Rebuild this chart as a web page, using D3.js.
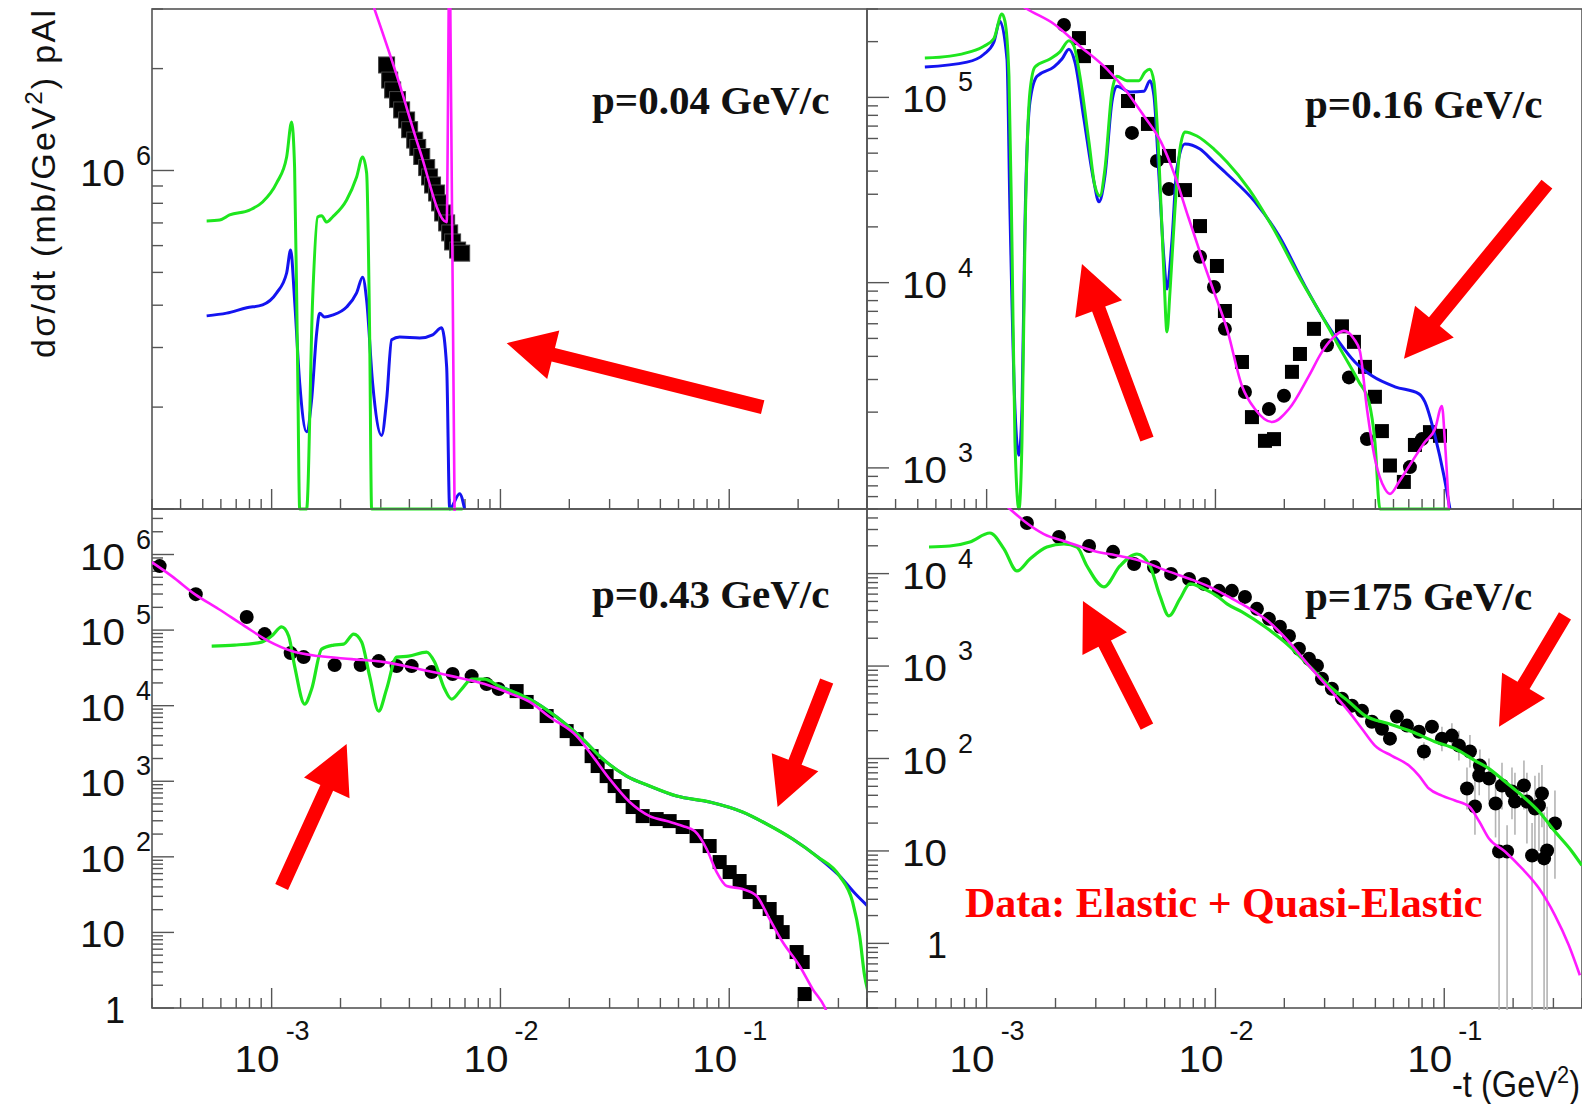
<!DOCTYPE html>
<html>
<head>
<meta charset="utf-8">
<title>dsigma/dt pAl</title>
<script src="https://cdn.jsdelivr.net/npm/d3@7"></script>
<style>
  body { margin: 0; background: #fff; }
  svg { display: block; }
  .lbl { font-family: "Liberation Sans", Arial, sans-serif; fill: #111; }
  .ptitle { font-family: "Liberation Serif", "Times New Roman", serif; font-weight: bold; fill: #111; }
</style>
</head>
<body>
<svg id="chart"></svg>
<script>
// all series are pairs [-t (GeV^2), dsigma/dt (mb/GeV^2)]

// p = 0.04 GeV/c
var greenA = [[5.20e-4,7.09e5],[5.93e-4,7.14e5],[6.55e-4,7.39e5],[8.01e-4,7.64e5],[9.13e-4,8.07e5],[1.052e-3,9.19e5],[1.163e-3,1.096e6],[1.223e-3,1.39e6],[1.26e-3,1.02e6],[1.299e-3,2.63e5],[1.326e-3,1e5],[1.422e-3,1e5],[1.51e-3,4.14e5],[1.589e-3,7.29e5],[1.654e-3,7.35e5],[1.74e-3,7.04e5],[1.847e-3,7.29e5],[2.127e-3,8.18e5],[2.352e-3,9.57e5],[2.498e-3,1.096e6],[2.601e-3,9.83e5],[2.681e-3,3.31e5],[2.735e-3,1e5],[6.83e-3,1e5]];
var blueA = [[5.20e-4,3.72e5],[6.36e-4,3.79e5],[7.78e-4,3.93e5],[9.13e-4,4.01e5],[1.052e-3,4.35e5],[1.163e-3,4.98e5],[1.211e-3,5.82e5],[1.26e-3,4.14e5],[1.326e-3,2.36e5],[1.422e-3,1.69e5],[1.495e-3,2.10e5],[1.573e-3,3.31e5],[1.621e-3,3.79e5],[1.704e-3,3.69e5],[1.847e-3,3.74e5],[2.127e-3,3.95e5],[2.352e-3,4.35e5],[2.498e-3,4.84e5],[2.601e-3,4.14e5],[2.762e-3,2.36e5],[3.025e-3,1.65e5],[3.181e-3,2.10e5],[3.346e-3,3.16e5],[3.626e-3,3.22e5],[4.436e-3,3.20e5],[5.054e-3,3.27e5],[5.534e-3,3.43e5],[5.82e-3,2.63e5],[6.0e-3,1e5],[6.63e-3,1.11e5],[6.97e-3,1e5]];
var magentaA = [[2.68e-3,3.3e6],[3.54e-3,1.89e6],[4.436e-3,1.15e6],[5.82e-3,7.04e5],[6.0e-3,5e6],[6.31e-3,9e4]];
var pointsA = [[3.18e-3,2.05e6],[3.28e-3,1.85e6],[3.38e-3,1.73e6],[3.55e-3,1.62e6],[3.70e-3,1.51e6],[3.89e-3,1.41e6],[4.01e-3,1.32e6],[4.22e-3,1.23e6],[4.35e-3,1.17e6],[4.53e-3,1.10e6],[4.76e-3,1.02e6],[4.90e-3,9.57e5],[5.05e-3,9.06e5],[5.26e-3,8.58e5],[5.42e-3,8.02e5],[5.59e-3,7.49e5],[5.82e-3,7.00e5],[6.00e-3,6.54e5],[6.18e-3,6.15e5],[6.50e-3,5.82e5],[6.77e-3,5.70e5]];

// p = 0.16 GeV/c
var greenB = [[5.37e-4,1.63e5],[6.91e-4,1.67e5],[8.45e-4,1.76e5],[9.73e-4,1.89e5],[1.076e-3,2.08e5],[1.166e-3,2.82e5],[1.202e-3,2.58e5],[1.252e-3,1.30e5],[1.29e-3,1.66e4],[1.33e-3,1.38e3],[1.384e-3,600],[1.427e-3,1.38e3],[1.47e-3,1.66e4],[1.546e-3,1.07e5],[1.626e-3,1.46e5],[1.891e-3,1.61e5],[2.091e-3,1.76e5],[2.289e-3,2.02e5],[2.407e-3,1.89e5],[2.557e-3,1.30e5],[2.8e-3,5.75e4],[2.974e-3,3.32e4],[3.127e-3,2.94e4],[3.289e-3,4.11e4],[3.528e-3,1.07e5],[3.71e-3,1.30e5],[4.104e-3,1.23e5],[4.632e-3,1.23e5],[4.919e-3,1.37e5],[5.173e-3,1.42e5],[5.386e-3,1.21e5],[5.664e-3,4.65e4],[5.957e-3,1.09e4],[6.14e-3,5.42e3],[6.328e-3,8.91e3],[6.654e-3,2.50e4],[6.997e-3,5.26e4],[7.358e-3,6.51e4],[8.30e-3,6.19e4],[9.85e-3,5.26e4],[1.123e-2,4.48e4],[1.401e-2,3.20e4],[1.766e-2,2.02e4],[2.388e-2,1.01e4],[2.921e-2,6.61e3],[3.572e-2,4.23e3],[4.239e-2,2.91e3],[4.687e-2,2.27e3],[4.978e-2,1.38e3],[5.236e-2,600],[0.1059,600]];
var blueB = [[5.37e-4,1.46e5],[8.20e-4,1.55e5],[9.73e-4,1.71e5],[1.076e-3,1.99e5],[1.143e-3,2.58e5],[1.227e-3,1.61e5],[1.264e-3,2.50e4],[1.33e-3,2.08e3],[1.384e-3,1.17e3],[1.427e-3,2.08e3],[1.47e-3,2.02e4],[1.546e-3,9.45e4],[1.66e-3,1.30e5],[1.969e-3,1.46e5],[2.133e-3,1.61e5],[2.289e-3,1.82e5],[2.432e-3,1.55e5],[2.662e-3,7.64e4],[2.944e-3,3.50e4],[3.095e-3,2.73e4],[3.289e-3,3.77e4],[3.528e-3,9.45e4],[3.71e-3,1.15e5],[4.23e-3,1.07e5],[4.87e-3,1.08e5],[5.173e-3,1.23e5],[5.386e-3,1.02e5],[5.664e-3,3.77e4],[5.957e-3,1.34e4],[6.14e-3,9.25e3],[6.45e-3,1.66e4],[6.78e-3,4.11e4],[7.358e-3,5.60e4],[8.56e-3,5.26e4],[9.85e-3,4.48e4],[1.123e-2,3.86e4],[1.488e-2,2.73e4],[1.895e-2,1.79e4],[2.462e-2,9.60e3],[2.921e-2,6.61e3],[3.466e-2,4.79e3],[4.07e-2,3.73e3],[4.831e-2,3.14e3],[6.088e-2,2.74e3],[7.75e-2,2.51e3],[8.23e-2,2.27e3],[9.11e-2,1.49e3],[9.97e-2,9.06e2],[0.1059,600]];
var magentaB = [[1.33e-3,3.3e5],[1.5e-3,3.0e5],[1.969e-3,2.49e5],[2.557e-3,1.89e5],[3.356e-3,1.42e5],[4.104e-3,1.07e5],[4.87e-3,7.93e4],[5.779e-3,5.75e4],[6.654e-3,3.77e4],[7.583e-3,2.29e4],[8.56e-3,1.46e4],[9.85e-3,8.91e3],[1.123e-2,5.63e3],[1.306e-2,2.77e3],[1.488e-2,2.08e3],[1.766e-2,1.77e3],[2.095e-2,2.08e3],[2.562e-2,3.14e3],[2.921e-2,4.23e3],[3.228e-2,4.97e3],[3.645e-2,5.49e3],[4.03e-2,4.97e3],[4.28e-2,4.26e3],[4.595e-2,2.08e3],[4.978e-2,1.12e3],[5.505e-2,7.70e2],[5.79e-2,7.24e2],[6.34e-2,8.40e2],[7.225e-2,1.08e3],[8.23e-2,1.38e3],[9.11e-2,1.62e3],[9.77e-2,2.16e3],[0.1007,1.38e3],[0.1048,600]];
var circlesB = [[2.177e-3,2.46e5],[4.317e-3,6.43e4],[5.55e-3,4.54e4],[6.262e-3,3.20e4],[8.56e-3,1.38e4],[9.85e-3,9.48e3],[1.1e-2,5.63e3],[1.346e-2,2.57e3],[1.713e-2,2.08e3],[1.993e-2,2.45e3],[3.072e-2,4.59e3],[3.832e-2,3.08e3],[4.595e-2,1.43e3],[7.08e-2,1.01e3],[7.99e-2,1.43e3]];
var squaresB = [[2.532e-3,2.09e5],[2.662e-3,1.67e5],[3.356e-3,1.37e5],[4.148e-3,9.56e4],[5.07e-3,7.19e4],[6.262e-3,4.83e4],[7.358e-3,3.16e4],[8.56e-3,2.02e4],[1.015e-2,1.23e4],[1.1e-2,7.03e3],[1.306e-2,3.73e3],[1.444e-2,1.88e3],[1.646e-2,1.40e3],[1.803e-2,1.43e3],[2.16e-2,3.30e3],[2.341e-2,4.12e3],[2.695e-2,5.63e3],[3.572e-2,5.81e3],[4.03e-2,4.79e3],[4.503e-2,3.51e3],[4.978e-2,2.42e3],[5.34e-2,1.58e3],[5.79e-2,1.03e3],[6.66e-2,8.40e2],[7.445e-2,1.33e3],[8.66e-2,1.56e3],[9.58e-2,1.49e3]];

// p = 0.43 GeV/c
var greenC = [[5.47e-4,6.14e4],[6.89e-4,6.33e4],[9.04e-4,6.94e4],[1.0e-3,8.33e4],[1.106e-3,1.10e5],[1.187e-3,8.33e4],[1.26e-3,3.34e4],[1.394e-3,1.05e4],[1.496e-3,1.66e4],[1.654e-3,5.61e4],[1.866e-3,6.33e4],[2.064e-3,6.53e4],[2.283e-3,8.85e4],[2.474e-3,6.94e4],[2.681e-3,2.46e4],[2.936e-3,8.48e3],[3.181e-3,1.66e4],[3.518e-3,4.39e4],[3.97e-3,4.53e4],[4.758e-3,5.12e4],[5.158e-3,3.77e4],[5.703e-3,1.66e4],[6.119e-3,1.22e4],[6.767e-3,1.66e4],[7.483e-3,2.25e4],[8.53e-3,2.25e4],[9.82e-3,1.82e4],[1.119e-2,1.56e4],[1.342e-2,1.22e4],[1.761e-2,7.07e3],[2.288e-2,3.61e3],[2.798e-2,1.97e3],[3.561e-2,1.17e3],[4.488e-2,8.64e2],[5.89e-2,6.37e2],[8.21e-2,5.31e2],[0.1144,3.91e2],[0.1457,2.72e2],[0.1893,1.72e2],[0.241,1.02e2],[0.3038,55.7],[0.3462,25.2],[0.3715,8.96],[0.3907,2.65],[0.4027,1.73]];
var blueC = [[9.82e-3,1.82e4],[1.119e-2,1.56e4],[1.342e-2,1.22e4],[1.761e-2,7.07e3],[2.288e-2,3.61e3],[2.798e-2,1.97e3],[3.561e-2,1.17e3],[4.488e-2,8.64e2],[5.89e-2,6.37e2],[8.21e-2,5.31e2],[0.1144,3.91e2],[0.1457,2.72e2],[0.1893,1.72e2],[0.241,1.02e2],[0.3038,55.7],[0.3532,33.2],[0.4027,22.3]];
var magentaC = [[2.99e-4,7.93e5],[3.66e-4,5.18e5],[4.61e-4,2.99e5],[5.86e-4,1.90e5],[7.62e-4,1.13e5],[9.70e-4,7.15e4],[1.223e-3,5.28e4],[1.605e-3,4.53e4],[2.237e-3,4.13e4],[3.119e-3,3.77e4],[4.39e-3,3.05e4],[6.119e-3,2.46e4],[8.53e-3,1.93e4],[1.119e-2,1.42e4],[1.342e-2,1.12e4],[1.641e-2,7.07e3],[2.153e-2,3.96e3],[2.529e-2,2.15e3],[3.0e-2,1.07e3],[3.671e-2,5.31e2],[4.488e-2,3.46e2],[5.325e-2,2.97e2],[6.256e-2,2.56e2],[7.06e-2,2.19e2],[7.965e-2,1.27e2],[8.81e-2,62.9],[9.74e-2,41.1],[0.1144,37.5],[0.1318,30.3],[0.1502,15.0],[0.1712,7.46],[0.2031,3.59],[0.2315,1.78],[0.2612,1.03],[0.275,0.7]];
var circlesC = [[3.24e-4,7.02e5],[4.66e-4,2.99e5],[7.78e-4,1.49e5],[9.32e-4,8.85e4],[1.211e-3,4.96e4],[1.38e-3,4.39e4],[1.885e-3,3.44e4],[2.449e-3,3.44e4],[2.936e-3,3.89e4],[3.518e-3,3.34e4],[4.092e-3,3.34e4],[5.004e-3,2.78e4],[6.18e-3,2.62e4],[7.483e-3,2.46e4],[8.70e-3,1.93e4],[9.82e-3,1.66e4]];
var squaresC = [[1.177e-2,1.56e4],[1.302e-2,1.12e4],[1.592e-2,7.29e3],[1.947e-2,4.61e3],[2.153e-2,3.61e3],[2.503e-2,2.15e3],[2.66e-2,1.59e3],[2.912e-2,1.17e3],[3.156e-2,8.64e2],[3.42e-2,6.37e2],[3.782e-2,4.56e2],[4.183e-2,3.46e2],[4.816e-2,3.16e2],[5.49e-2,2.97e2],[6.256e-2,2.48e2],[7.20e-2,1.88e2],[8.21e-2,1.39e2],[9.08e-2,85.3],[0.1004,62.9],[0.111,47.9],[0.1228,34.2],[0.1358,25.2],[0.1502,20.4],[0.1612,13.7],[0.1712,10.1],[0.197,5.50],[0.2094,4.06],[0.2136,1.53]];

// p = 175 GeV/c
var greenD = [[5.60e-4,1.94e4],[6.91e-4,1.99e4],[8.45e-4,2.20e4],[1.034e-3,2.75e4],[1.19e-3,1.85e4],[1.357e-3,1.07e4],[1.546e-3,1.44e4],[1.834e-3,1.94e4],[2.177e-3,2.09e4],[2.481e-3,1.94e4],[2.744e-3,1.21e4],[3.256e-3,7.18e3],[3.825e-3,1.21e4],[4.539e-3,1.63e4],[5.173e-3,1.21e4],[5.72e-3,5.74e3],[6.264e-3,3.49e3],[6.996e-3,5.33e3],[7.737e-3,7.74e3],[8.906e-3,6.84e3],[1.015e-2,5.74e3],[1.123e-2,4.71e3],[1.306e-2,3.86e3],[1.646e-2,2.66e3],[2.096e-2,1.66e3],[2.563e-2,1.01e3],[3.133e-2,6.13e2],[3.832e-2,4.12e2],[4.503e-2,2.91e2],[5.73e-2,2.38e2],[7.225e-2,1.95e2],[9.11e-2,1.52e2],[0.1114,1.28e2],[0.1362,94.9],[0.1568,77.8],[0.1842,56.3],[0.2186,39.7],[0.2594,26.7],[0.3047,16.2],[0.3614,9.88],[0.3996,6.97]];
var magentaD = [[1.143e-3,6.25e4],[1.264e-3,5.0e4],[1.456e-3,3.71e4],[1.779e-3,2.68e4],[2.244e-3,2.20e4],[2.944e-3,1.76e4],[3.825e-3,1.55e4],[4.87e-3,1.34e4],[6.138e-3,1.07e4],[7.737e-3,8.76e3],[9.85e-3,6.84e3],[1.123e-2,5.74e3],[1.346e-2,4.48e3],[1.713e-2,3.01e3],[2.096e-2,1.83e3],[2.563e-2,1.01e3],[3.228e-2,5.28e2],[3.832e-2,3.21e2],[4.368e-2,2.10e2],[4.978e-2,1.38e2],[5.906e-2,1.07e2],[7.008e-2,83.8],[7.75e-2,65.4],[8.57e-2,47.3],[9.77e-2,39.7],[0.1114,35.1],[0.1286,30.2],[0.1422,20.8],[0.1568,13.6],[0.1842,9.88],[0.2186,6.47],[0.2594,3.94],[0.3047,2.01],[0.3503,0.954],[0.3915,0.452]];
var circlesD = [[1.5e-3,3.53e4],[2.07e-3,2.49e4],[2.803e-3,1.99e4],[3.569e-3,1.72e4],[4.409e-3,1.27e4],[5.39e-3,1.18e4],[6.397e-3,9.93e3],[7.669e-3,8.76e3],[8.906e-3,7.74e3],[1.036e-2,6.51e3],[1.18e-2,6.51e3],[1.346e-2,5.60e3],[1.518e-2,4.16e3],[1.713e-2,3.24e3],[1.913e-2,2.66e3],[2.096e-2,2.12e3],[2.317e-2,1.54e3],[2.563e-2,1.20e3],[2.778e-2,1.01e3],[2.921e-2,7.29e2],[3.228e-2,5.68e2],[3.572e-2,4.44e2],[3.95e-2,3.73e2],[4.368e-2,3.29e2],[4.831e-2,2.50e2],[5.342e-2,2.10e2],[5.79e-2,1.64e2],[6.21e-2,2.84e2],[6.87e-2,2.27e2],[7.75e-2,1.95e2],[8.835e-2,2.21e2],[8.15e-2,1.19e2],[9.77e-2,1.64e2],[0.108,1.77e2],[0.1159,1.38e2],[0.1295,1.19e2],[0.1432,83.8],[0.1257,47.3],[0.1422,65.4],[0.1568,60.7],[0.1676,32.6],[0.1362,30.2],[0.1788,51.0],[0.1977,43.9],[0.2037,34.2],[0.2230,51.0],[0.2298,34.2],[0.2491,28.8],[0.2673,41.8],[0.2594,31.0],[0.3047,19.8],[0.1736,9.88],[0.1882,9.88],[0.2420,8.94],[0.2731,8.30],[0.2815,10.1]];
// [t, low, high]
var errorsD = [[0.0815,95,150],[0.0977,120,220],[0.108,130,240],[0.1159,95,200],[0.1257,28,80],[0.1295,80,180],[0.1362,15,60],[0.1422,40,100],[0.1432,55,125],[0.1568,35,100],[0.1676,14,65],[0.1736,0.1,29],[0.1788,28,90],[0.1882,0.1,19],[0.1977,22,80],[0.2037,15,70],[0.2230,28,95],[0.2298,12,70],[0.2420,0.1,20],[0.2491,10,65],[0.2594,10,70],[0.2673,18,85],[0.2731,0.1,26],[0.2815,0.1,30],[0.3047,5,45]];

// arrows [tailT, tailV, tipT, tipV]
var arrowsA = [[0.140,2.0e5,1.065e-2,3.09e5]];
var arrowsB = [[5.02e-3,1.43e3,2.61e-3,1.26e4],[0.281,3.40e4,6.67e-2,3.88e3]];
var arrowsC = [[1.106e-3,39.9,2.127e-3,3.10e3],[0.2666,2.12e4,0.1627,456]];
var arrowsD = [[5.02e-3,221,2.636e-3,5.07e3],[0.337,3.49e3,0.1735,221]];

// tick labels
var yLabelsA = [1e6];
var yLabelsB = [1e3, 1e4, 1e5];
var yLabelsC = [1, 10, 1e2, 1e3, 1e4, 1e5, 1e6];
var yLabelsD = [1, 10, 1e2, 1e3, 1e4];
var xLabels = [1e-3, 1e-2, 1e-1];

var tDomain = [3e-4, 0.4];

var svgWidth = 1582, svgHeight = 1104;
var svg = d3.select("#chart").attr("width", svgWidth).attr("height", svgHeight);

var GREEN = "#1ee61e", BLUE = "#1414f0", MAGENTA = "#ff1aff";

var panels = [
  { id: "a", left: 152, top: 9, h: 500, yDomain: [1e5, 3e6], yLabels: yLabelsA, xLabels: [], inner: false,
    title: "p=0.04 GeV/c", titleX: 592, titleY: 114,
    lines: [[blueA, BLUE, 3], [greenA, GREEN, 3], [magentaA, MAGENTA, 2.6]],
    band: pointsA, circles: [], squares: [], errors: [], arrows: arrowsA },
  { id: "b", left: 867, top: 9, h: 500, yDomain: [600, 3e5], yLabels: yLabelsB, xLabels: [], inner: true,
    title: "p=0.16 GeV/c", titleX: 1305, titleY: 118,
    lines: [[blueB, BLUE, 3], [greenB, GREEN, 3], [magentaB, MAGENTA, 2.6]],
    band: [], circles: circlesB, squares: squaresB, errors: [], arrows: arrowsB },
  { id: "c", left: 152, top: 509, h: 499, yDomain: [1, 4e6], yLabels: yLabelsC, xLabels: xLabels, inner: false,
    title: "p=0.43 GeV/c", titleX: 592, titleY: 608,
    lines: [[blueC, BLUE, 3], [greenC, GREEN, 3.2], [magentaC, MAGENTA, 2.6]],
    band: [], circles: circlesC, squares: squaresC, errors: [], arrows: arrowsC },
  { id: "d", left: 867, top: 509, h: 499, yDomain: [0.2, 5e4], yLabels: yLabelsD, xLabels: xLabels, inner: true,
    title: "p=175 GeV/c", titleX: 1305, titleY: 610,
    lines: [[greenD, GREEN, 3.2], [magentaD, MAGENTA, 2.6]],
    band: [], circles: circlesD, squares: [], errors: errorsD, arrows: arrowsD }
];

var panelWidth = 715;

function isDecade(v) {
  var l = Math.log10(v);
  return Math.abs(l - Math.round(l)) < 1e-6;
}

panels.forEach(function(p) {
  var x = d3.scaleLog().domain(tDomain).range([p.left, p.left + panelWidth]);
  var y = d3.scaleLog().domain(p.yDomain).range([p.top + p.h, p.top]);
  var bottom = p.top + p.h;

  var g = svg.append("g").attr("class", "panel-" + p.id);

  // frame
  g.append("rect")
    .attr("x", p.left).attr("y", p.top)
    .attr("width", panelWidth).attr("height", p.h)
    .attr("fill", "none").attr("stroke", "#555").attr("stroke-width", 1.6);

  // ticks (ROOT style, pointing inward)
  g.selectAll("line.xt").data(x.ticks()).enter().append("line")
    .attr("x1", d => x(d)).attr("x2", d => x(d))
    .attr("y1", bottom).attr("y2", d => bottom - (isDecade(d) ? 20 : 10))
    .attr("stroke", "#555").attr("stroke-width", 1.4);

  g.selectAll("line.yt").data(y.ticks()).enter().append("line")
    .attr("y1", d => y(d)).attr("y2", d => y(d))
    .attr("x1", p.left).attr("x2", d => p.left + (isDecade(d) ? 22 : 11))
    .attr("stroke", "#555").attr("stroke-width", 1.4);

  // y tick labels
  var mainEnd = p.inner ? p.left + 80 : p.left - 27;
  var expStart = p.inner ? p.left + 91 : p.left - 16;
  p.yLabels.forEach(function(v) {
    var n = Math.round(Math.log10(v));
    var t = g.append("text").attr("class", "lbl")
      .attr("x", mainEnd).attr("y", y(v) + 15)
      .attr("text-anchor", "end").attr("font-size", 36)
      .text(n === 0 ? "1" : "10");
    if (n > 0) t.attr("textLength", 45).attr("lengthAdjust", "spacingAndGlyphs");
    if (n > 1) {
      g.append("text").attr("class", "lbl")
        .attr("x", expStart).attr("y", y(v) - 6)
        .attr("font-size", 27).text(n);
    }
  });

  // x tick labels
  p.xLabels.forEach(function(v) {
    var n = Math.round(Math.log10(v));
    g.append("text").attr("class", "lbl")
      .attr("x", x(v) - 37).attr("y", 1072)
      .attr("font-size", 36)
      .attr("textLength", 45).attr("lengthAdjust", "spacingAndGlyphs")
      .text("10");
    g.append("text").attr("class", "lbl")
      .attr("x", x(v) + 14).attr("y", 1040)
      .attr("font-size", 27).text(n);
  });

  // clipped plot area
  svg.append("clipPath").attr("id", "clip-" + p.id).append("rect")
    .attr("x", p.left).attr("y", p.top - 1)
    .attr("width", panelWidth).attr("height", p.h + 3);
  var plot = g.append("g").attr("clip-path", "url(#clip-" + p.id + ")");

  // error bars
  plot.selectAll("line.err").data(p.errors).enter().append("line")
    .attr("x1", d => x(d[0])).attr("x2", d => x(d[0]))
    .attr("y1", d => y(d[1])).attr("y2", d => y(d[2]))
    .attr("stroke", "#b4b4b4").attr("stroke-width", 1.6);

  // markers
  plot.selectAll("rect.band").data(p.band).enter().append("rect")
    .attr("x", d => x(d[0]) - 8).attr("y", d => y(d[1]) - 8)
    .attr("width", 16).attr("height", 16)
    .attr("fill", "#000").attr("stroke", "#444").attr("stroke-width", 1);

  plot.selectAll("rect.sq").data(p.squares).enter().append("rect")
    .attr("x", d => x(d[0]) - 7).attr("y", d => y(d[1]) - 7)
    .attr("width", 14).attr("height", 14).attr("fill", "#000");

  plot.selectAll("circle.dot").data(p.circles).enter().append("circle")
    .attr("cx", d => x(d[0])).attr("cy", d => y(d[1]))
    .attr("r", 7).attr("fill", "#000");

  // model curves
  var line = d3.line()
    .x(d => x(d[0]))
    .y(d => y(d[1]))
    .curve(d3.curveMonotoneX);

  p.lines.forEach(function(s) {
    plot.append("path")
      .datum(s[0])
      .attr("d", line)
      .attr("fill", "none")
      .attr("stroke", s[1])
      .attr("stroke-width", s[2])
      .attr("stroke-linejoin", "round");
  });

  // panel title
  g.append("text").attr("class", "ptitle")
    .attr("x", p.titleX).attr("y", p.titleY)
    .attr("font-size", 41).text(p.title);

  // red arrows
  p.arrows.forEach(function(a) {
    var x1 = x(a[0]), y1 = y(a[1]), x2 = x(a[2]), y2 = y(a[3]);
    var len = Math.hypot(x2 - x1, y2 - y1);
    var ux = (x2 - x1) / len, uy = (y2 - y1) / len;
    var nx = -uy, ny = ux;
    var sw = 7, hw = 25, hl = 48;
    var bx = x2 - ux * hl, by = y2 - uy * hl;
    var pts = [
      [x1 + nx * sw, y1 + ny * sw],
      [bx + nx * sw, by + ny * sw],
      [bx + nx * hw, by + ny * hw],
      [x2, y2],
      [bx - nx * hw, by - ny * hw],
      [bx - nx * sw, by - ny * sw],
      [x1 - nx * sw, y1 - ny * sw]
    ];
    g.append("polygon")
      .attr("points", pts.map(q => q.join(",")).join(" "))
      .attr("fill", "#ff0000");
  });
});

// red note in the 175 GeV/c panel
svg.append("text").attr("class", "ptitle")
  .attr("x", 965).attr("y", 917)
  .attr("font-size", 42)
  .style("fill", "#ff0000")
  .text("Data: Elastic + Quasi-Elastic");

// axis titles
var yTitle = svg.append("text").attr("class", "lbl")
  .attr("transform", "translate(55,358) rotate(-90)")
  .attr("font-size", 34)
  .attr("textLength", 348).attr("lengthAdjust", "spacing");
yTitle.append("tspan").text("d\u03c3/dt (mb/GeV");
yTitle.append("tspan").attr("font-size", 24).attr("dy", -13).text("2");
yTitle.append("tspan").attr("dy", 13).text(") pAl");

var xTitle = svg.append("text").attr("class", "lbl")
  .attr("x", 1452).attr("y", 1097)
  .attr("font-size", 36)
  .attr("textLength", 128).attr("lengthAdjust", "spacingAndGlyphs");
xTitle.append("tspan").text("-t (GeV");
xTitle.append("tspan").attr("font-size", 24).attr("dy", -14).text("2");
xTitle.append("tspan").attr("dy", 14).text(")");
</script>
</body>
</html>
